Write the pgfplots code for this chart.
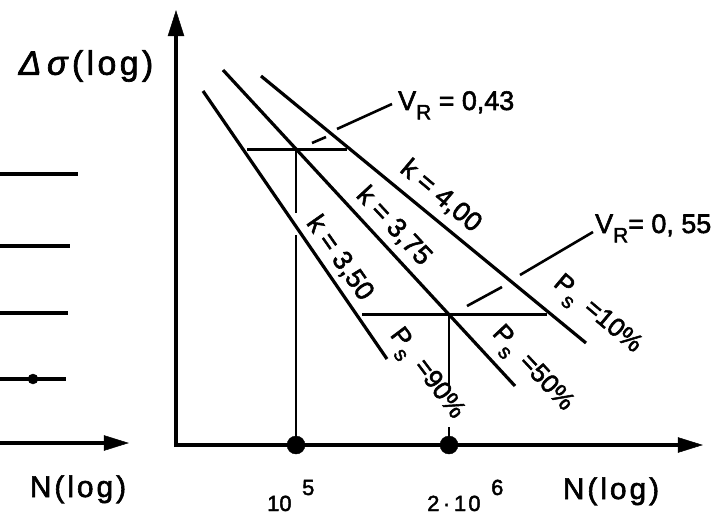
\documentclass[border=0pt]{standalone}
\usepackage{fontspec}
\setmainfont{Liberation Sans}[FakeBold=2]
\newfontfamily\wide{Liberation Sans}[LetterSpace=10, FakeBold=2]
\usepackage{pgfplots}
\pgfplotsset{compat=1.18}
\newcommand\fs[1]{\fontsize{#1}{#1}\selectfont}
\newcommand\sub[1]{\raisebox{-0.35em}{\fontsize{21}{21}\selectfont #1}}
\begin{document}
\begin{tikzpicture}
\begin{axis}[name=ax, scale only axis, width=725bp, height=512bp,
  xmin=0, xmax=725, ymin=0, ymax=512, y dir=reverse, hide axis, clip=false]
% ---------- left panel ----------
\addplot[black, line width=3.5bp] coordinates {(0,174)(78,174)};
\addplot[black, line width=3.5bp] coordinates {(0,246)(70,246)};
\addplot[black, line width=3.5bp] coordinates {(0,313)(68,313)};
\addplot[black, line width=3.5bp] coordinates {(0,379)(66,379)};
\addplot[black, only marks, mark=*, mark size=5bp] coordinates {(33,379)};
\addplot[black, line width=4bp] coordinates {(0,443)(106,443)};
\addplot[black, fill=black, line width=0.5bp] coordinates {(104,435.5)(128,443)(104,450.5)} -- cycle;
% ---------- right panel axes ----------
\addplot[black, line width=4bp] coordinates {(176,447)(176,34)};
\addplot[black, fill=black, line width=0.5bp] coordinates {(168,36)(176,11)(184,36)} -- cycle;
\addplot[black, line width=4bp] coordinates {(174,445)(680,445)};
\addplot[black, fill=black, line width=0.5bp] coordinates {(678,437.5)(702,445)(678,452.5)} -- cycle;
% ---------- S-N lines ----------
\addplot[black, line width=3.2bp] coordinates {(203,91)(387,359)};   % k=3,50
\addplot[black, line width=3.2bp] coordinates {(223,70)(515,386)};   % k=3,75
\addplot[black, line width=3.2bp] coordinates {(261,76)(586,343)};   % k=4,00
% scatter bands
\addplot[black, line width=3bp] coordinates {(247,149)(347,149)};
\addplot[black, line width=3bp] coordinates {(362,314)(547,314)};
% verticals to N axis
\addplot[black, line width=2bp] coordinates {(296,149)(296,213)};
\addplot[black, line width=2bp] coordinates {(296,235)(296,445)};
\addplot[black, line width=2bp] coordinates {(449,314)(449,385)};
\addplot[black, line width=2bp] coordinates {(449,427)(449,445)};
% leaders for V_R
\addplot[black, line width=2.6bp] coordinates {(312,143)(326,137)};
\addplot[black, line width=2.6bp] coordinates {(337,129)(392,104)};
\addplot[black, line width=2.6bp] coordinates {(467,306)(502,287)};
\addplot[black, line width=2.6bp] coordinates {(520,275)(593,232)};
% points on N axis
\addplot[black, only marks, mark=*, mark size=9bp] coordinates {(296,445)(449,445)};
% ---------- texts ----------
\node[font=\wide\fs{34}] at (axis cs:86,66) {\textit{Δ\,σ}(log)};
\node[font=\wide\fs{30}, anchor=base] at (axis cs:78,497) {N(log)};
\node[font=\wide\fs{30}, anchor=base] at (axis cs:611,499) {N(log)};
\node[font=\fs{22}, anchor=base west, inner sep=0pt] at (axis cs:267,511) {10};
\node[font=\fs{22}, anchor=base west, inner sep=0pt] at (axis cs:302,495) {5};
\node[font=\wide\fs{22}, anchor=base west, inner sep=0pt] at (axis cs:427,511) {2\,·\,10};
\node[font=\fs{22}, anchor=base west, inner sep=0pt] at (axis cs:491,495) {6};
\node[font=\fs{27}, anchor=base west, inner sep=0pt] at (axis cs:398,110) {V\sub{R} = 0,43};
\node[font=\fs{27}, anchor=base west, inner sep=0pt] at (axis cs:595,233) {V\sub{R}= 0, 55};
\node[font=\fs{27}, rotate=-40] at (axis cs:441,196) {k = 4,00};
\node[font=\fs{27}, rotate=-47] at (axis cs:394,226) {k = 3,75};
\node[font=\fs{27}, rotate=-55] at (axis cs:340,258) {k = 3,50};
\node[font=\fs{26}, rotate=-53] at (axis cs:425,375) {P\sub{s} \,=90\%};
\node[font=\fs{26}, rotate=-47] at (axis cs:531,370) {P\sub{s} \,=50\%};
\node[font=\fs{26}, rotate=-40] at (axis cs:596,316) {P\sub{s} \,=10\%};
\end{axis}
\pgfresetboundingbox
\path (ax.south west) rectangle (ax.north east);
\end{tikzpicture}
\end{document}
